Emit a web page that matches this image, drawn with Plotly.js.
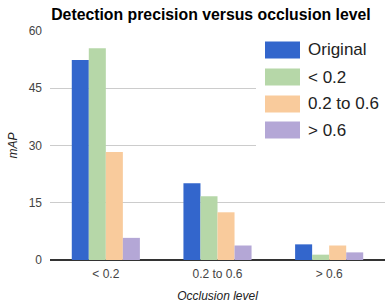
<!DOCTYPE html>
<html>
<head>
<meta charset="utf-8">
<script src="https://cdn.plot.ly/plotly-3.0.1.min.js"></script>
<style>html,body{margin:0;padding:0;background:#fff;}#chart{width:385px;height:303px;}</style>
</head>
<body>
<div id="chart"></div>
<script>
var categories = ["< 0.2", "0.2 to 0.6", "> 0.6"];
var seriesNames = ["Original", "< 0.2", "0.2 to 0.6", "> 0.6"];
var original = [52.4, 20.1, 4.1];
var occLow = [55.5, 16.7, 1.4];
var occMid = [28.3, 12.5, 3.8];
var occHigh = [5.8, 3.8, 2.0];
var seriesValues = [original, occLow, occMid, occHigh];
var colors = ["#3366cc", "#b6d7a8", "#f9cb9c", "#b4a7d6"];

var W = 385, H = 303, ML = 50, MR = 0, MT = 31, MB = 43;
var PW = W - ML - MR, PH = H - MT - MB;
function px2x(p) { return (p - ML) / PW; }
function py2y(p) { return (H - MB - p) / PH; }
var FONT = "Liberation Sans, Arial, sans-serif";

var traces = seriesNames.map(function (n, i) {
  return {type: "bar", name: n, x: categories, y: seriesValues[i],
    marker: {color: colors[i], line: {width: 0}}, showlegend: false, hoverinfo: "none"};
});

var shapes = [{type: "rect", xref: "paper", yref: "paper", layer: "above",
  x0: px2x(256), x1: 1.02, y0: py2y(147), y1: 1.02, fillcolor: "#ffffff", line: {width: 0}}];
var annotations = [];
var rowY = [50, 77, 104, 130];
seriesNames.forEach(function (n, i) {
  shapes.push({type: "rect", xref: "paper", yref: "paper", layer: "above",
    x0: px2x(265), x1: px2x(300), y0: py2y(rowY[i] + 8.5), y1: py2y(rowY[i] - 8.5),
    fillcolor: colors[i], line: {width: 0}});
  annotations.push({xref: "paper", yref: "paper", x: px2x(306), y: py2y(rowY[i]),
    xanchor: "left", yanchor: "middle", showarrow: false, text: n,
    font: {family: FONT, size: 17, color: "#222"}});
});

var layout = {
  width: W, height: H,
  margin: {l: ML, r: MR, t: MT, b: MB, pad: 0},
  paper_bgcolor: "#fff", plot_bgcolor: "#fff",
  title: {text: "<b>Detection precision versus occlusion level</b>", x: 0.548, xanchor: "center", y: 0.953, yanchor: "middle",
    font: {family: FONT, size: 15.8, color: "#000"}},
  barmode: "group", bargap: 0.39, bargroupgap: 0,
  xaxis: {type: "category", range: [-0.5, 2.5], showgrid: false, zeroline: false, showline: false,
    ticks: "", ticklabelstandoff: 5, tickfont: {family: FONT, size: 12, color: "#444"},
    title: {text: "<i>Occlusion level</i>", standoff: 14, font: {family: FONT, size: 12, color: "#222"}}},
  yaxis: {range: [0, 60], tickvals: [0, 15, 30, 45, 60], ticktext: ["0", "15", "30", "45", "60"],
    showgrid: true, gridcolor: "#cccccc", gridwidth: 1, zeroline: true, zerolinecolor: "#333", zerolinewidth: 2,
    showline: false, ticks: "", ticklabelstandoff: 7,
    tickfont: {family: FONT, size: 12, color: "#444"},
    title: {text: "<i>mAP</i>", standoff: 8, font: {family: FONT, size: 12, color: "#222"}}},
  shapes: shapes,
  annotations: annotations,
  showlegend: false
};

Plotly.newPlot("chart", traces, layout, {displayModeBar: false, staticPlot: true});
</script>
</body>
</html>
